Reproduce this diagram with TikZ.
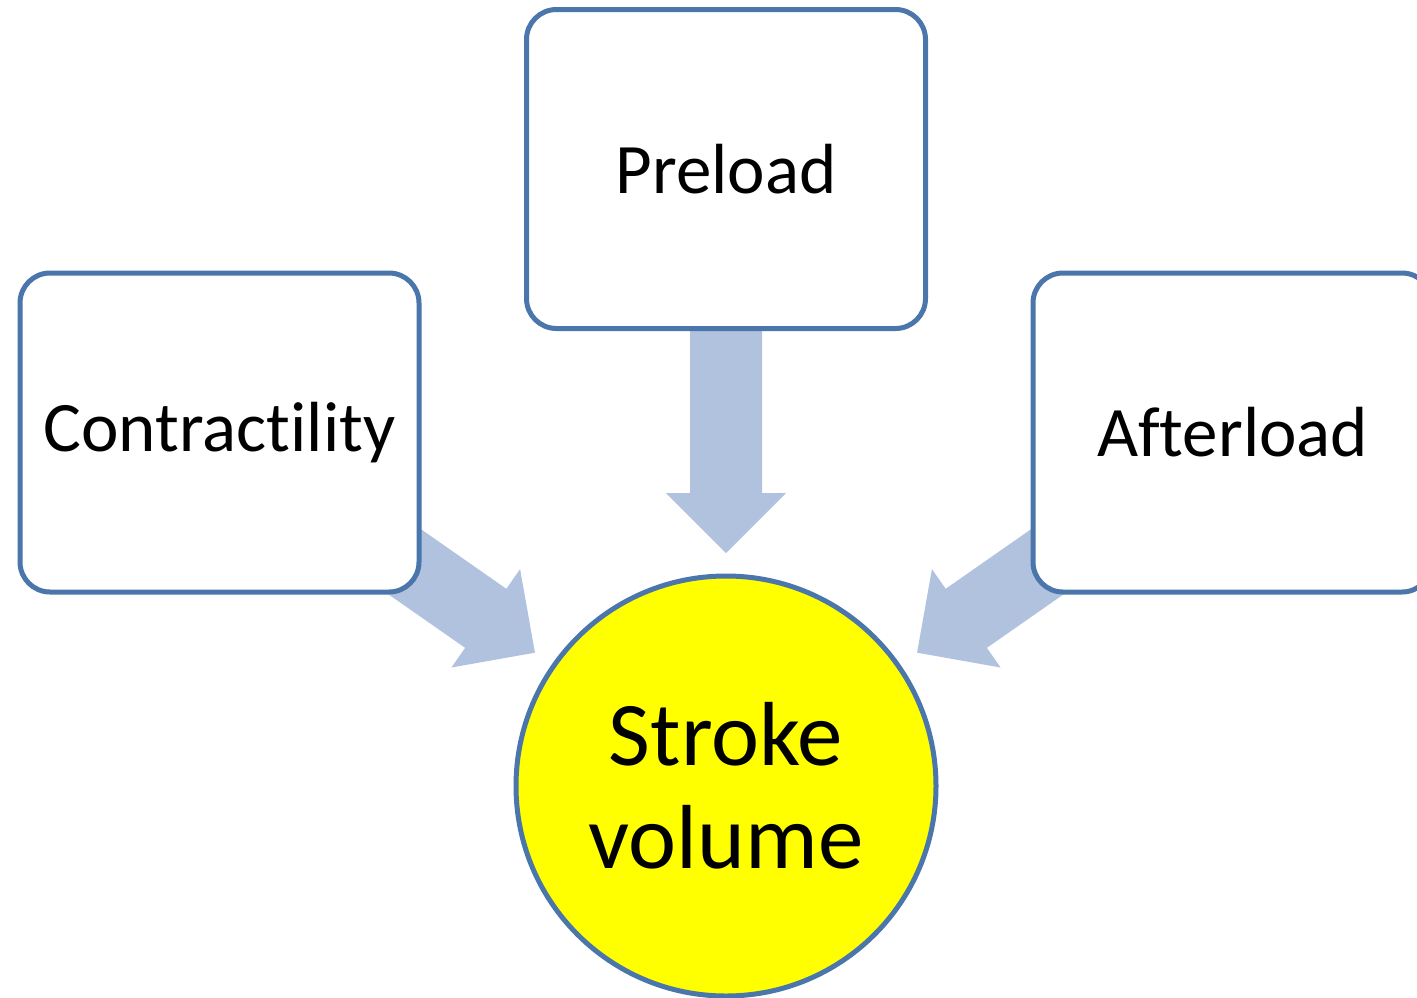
\documentclass[tikz,border=0pt]{standalone}
\usepackage{fontspec}
\setmainfont{Carlito}[Ligatures={NoCommon,NoContextual}]
\usetikzlibrary{calc,backgrounds}
\definecolor{frameblue}{RGB}{74,118,172}
\definecolor{flowblue}{RGB}{176,194,221}
\definecolor{hilite}{RGB}{255,255,0}
% broad block arrow from the centre of #1 towards the centre of #2,
% stopping short of #2; its tail is covered by #1
\newcommand\flowarrow[2]{%
  \path ($(#2.center)!116.5pt!(#1.center)$) coordinate (tip-#1)
        ($(#2.center)!146.5pt!(#1.center)$) coordinate (neck-#1);
  \fill[flowblue] (tip-#1)
    -- ($(neck-#1)!30pt!90:(tip-#1)$)
    -- ($(neck-#1)!18pt!90:(tip-#1)$)
    -- ($(#1.center)!18pt!90:(tip-#1)$)
    -- ($(#1.center)!18pt!-90:(tip-#1)$)
    -- ($(neck-#1)!18pt!-90:(tip-#1)$)
    -- ($(neck-#1)!30pt!-90:(tip-#1)$)
    -- cycle;}
\begin{document}
\begin{tikzpicture}[x=0.5pt,y=-0.5pt,
  factor/.style={draw=frameblue, line width=2.5pt, fill=white, rounded corners=15pt,
    minimum width=199.5pt, minimum height=159.5pt, inner sep=0pt,
    font=\fontsize{35.5}{40}\selectfont, align=center},
  outcome/.style={circle, draw=frameblue, line width=2.5pt, fill=hilite,
    minimum size=210pt, inner sep=0pt,
    font=\fontsize{45.5}{51.5}\selectfont, align=center}
]
\useasboundingbox (0,0) rectangle (1417,997);
\path[clip] (0,0) rectangle (1417,997);

% the three determinants
\node[factor] (pre) at (726,169)   {Preload};
\node[factor] (con) at (219.5,432.5) {Contractility};
\node[factor] (aft) at (1232.5,432.5) {Afterload};

% the result
\node[outcome] (sv) at (726,786) {Stroke\\volume};

% broad arrows, tails hidden behind the boxes
\begin{pgfonlayer}{background}
  \flowarrow{pre}{sv}
  \flowarrow{con}{sv}
  \flowarrow{aft}{sv}
\end{pgfonlayer}
\end{tikzpicture}
\end{document}
